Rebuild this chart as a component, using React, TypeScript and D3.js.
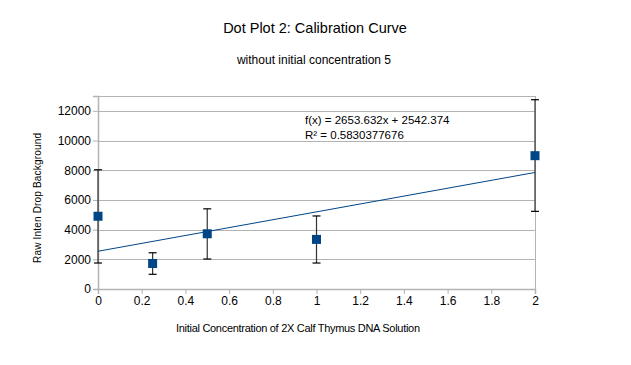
import React, { useEffect, useRef } from "react";
import * as d3 from "d3";

// chart data
const concentrations = [0, 0.25, 0.5, 1, 2];
const meanIntensity = [4900, 1720, 3720, 3340, 8980];
const errLow = [1750, 990, 2020, 1750, 5230];
const errHigh = [8030, 2440, 5400, 4920, 12750];
const xTicks = [0, 0.2, 0.4, 0.6, 0.8, 1, 1.2, 1.4, 1.6, 1.8, 2];
const yTicks = [0, 2000, 4000, 6000, 8000, 10000, 12000];
const slope = 2653.632;
const intercept = 2542.374;
const rSquared = "0.5830377676";

const W = 631;
const H = 365;
const margin = { top: 96, right: 96, bottom: 76, left: 98 };

const App = () => {
  const ref = useRef<SVGSVGElement>(null);

  useEffect(() => {
    const svg = d3.select(ref.current);
    svg.selectAll("*").remove();
    const width = W - margin.left - margin.right;
    const height = H - margin.top - margin.bottom;
    const font = "'Liberation Sans', Arial, sans-serif";

    const x = d3.scaleLinear().domain([0, 2]).range([0, width]);
    const y = d3.scaleLinear().domain([0, 13000]).range([height, 0]);

    const g = svg
      .append("g")
      .attr("transform", `translate(${margin.left},${margin.top})`);

    // gridlines
    g.selectAll("line.grid")
      .data(yTicks.concat([13000]))
      .enter()
      .append("line")
      .attr("x1", 0)
      .attr("x2", width)
      .attr("y1", (d) => Math.round(y(d)) + 0.5)
      .attr("y2", (d) => Math.round(y(d)) + 0.5)
      .attr("stroke", "#b3b3b3")
      .attr("stroke-width", 1);

    // right border
    g.append("line")
      .attr("x1", width + 0.5)
      .attr("x2", width + 0.5)
      .attr("y1", 0)
      .attr("y2", height)
      .attr("stroke", "#b3b3b3");

    // left axis
    const yAxis = g
      .append("g")
      .call(d3.axisLeft(y).tickValues(yTicks).tickSize(5).tickFormat(d3.format("d")));
    yAxis.select(".domain").attr("stroke", "#b3b3b3").attr("stroke-width", 1.5);
    yAxis.selectAll(".tick line").attr("stroke", "#b3b3b3");
    yAxis
      .selectAll("text")
      .attr("font-family", font)
      .attr("font-size", 12)
      .attr("fill", "#000")
      .attr("x", -7);

    // bottom axis
    const xAxis = g
      .append("g")
      .attr("transform", `translate(0,${height})`)
      .call(d3.axisBottom(x).tickValues(xTicks).tickSize(5).tickFormat(d3.format("")));
    xAxis.select(".domain").attr("stroke", "#b3b3b3").attr("stroke-width", 1.5);
    xAxis.selectAll(".tick line").attr("stroke", "#b3b3b3");
    xAxis
      .selectAll("text")
      .attr("font-family", font)
      .attr("font-size", 12)
      .attr("fill", "#000")
      .attr("y", 7);

    // trend line
    g.append("line")
      .attr("x1", x(0))
      .attr("y1", y(intercept))
      .attr("x2", x(2))
      .attr("y2", y(slope * 2 + intercept))
      .attr("stroke", "#004586")
      .attr("stroke-width", 1);

    const data = concentrations.map((c, i) => ({
      c,
      m: meanIntensity[i],
      lo: errLow[i],
      hi: errHigh[i],
    }));

    // error bars
    const eb = g.selectAll("g.err").data(data).enter().append("g");
    eb.append("line")
      .attr("x1", (d) => x(d.c))
      .attr("x2", (d) => x(d.c))
      .attr("y1", (d) => y(d.hi))
      .attr("y2", (d) => y(d.lo))
      .attr("stroke", "#333")
      .attr("stroke-width", 1.2);
    ["hi", "lo"].forEach((k) => {
      eb.append("line")
        .attr("x1", (d) => x(d.c) - 4)
        .attr("x2", (d) => x(d.c) + 4)
        .attr("y1", (d: any) => y(d[k]))
        .attr("y2", (d: any) => y(d[k]))
        .attr("stroke", "#000")
        .attr("stroke-width", 1.2);
    });

    // markers
    g.selectAll("rect.pt")
      .data(data)
      .enter()
      .append("rect")
      .attr("x", (d) => x(d.c) - 4.5)
      .attr("y", (d) => y(d.m) - 4.5)
      .attr("width", 9)
      .attr("height", 9)
      .attr("fill", "#004586");

    // regression text
    svg
      .append("text")
      .attr("x", 305)
      .attr("y", 124)
      .attr("font-family", font)
      .attr("font-size", 11.5)
      .text(`f(x) = ${slope}x  + ${intercept}`);
    svg
      .append("text")
      .attr("x", 305)
      .attr("y", 139)
      .attr("font-family", font)
      .attr("font-size", 11.5)
      .text(`R² = ${rSquared}`);

    // titles
    svg
      .append("text")
      .attr("x", 315)
      .attr("y", 33)
      .attr("text-anchor", "middle")
      .attr("font-family", font)
      .attr("font-size", 14.5)
      .text("Dot Plot 2: Calibration Curve");
    svg
      .append("text")
      .attr("x", 314)
      .attr("y", 64)
      .attr("text-anchor", "middle")
      .attr("font-family", font)
      .attr("font-size", 12)
      .text("without initial concentration 5");

    // axis labels
    svg
      .append("text")
      .attr("x", 298)
      .attr("y", 332)
      .attr("text-anchor", "middle")
      .attr("font-family", font)
      .attr("font-size", 11)
      .attr("textLength", 244)
      .attr("lengthAdjust", "spacing")
      .text("Initial Concentration of 2X Calf Thymus DNA Solution");
    svg
      .append("text")
      .attr("transform", `translate(41,198)rotate(-90)`)
      .attr("text-anchor", "middle")
      .attr("font-family", font)
      .attr("font-size", 10)
      .attr("textLength", 130)
      .attr("lengthAdjust", "spacing")
      .text("Raw Inten Drop Background");
  }, []);

  return (
    <svg
      ref={ref}
      width={W}
      height={H}
      style={{ position: "absolute", left: 0, top: 0, background: "#fff" }}
    />
  );
};

export default App;
